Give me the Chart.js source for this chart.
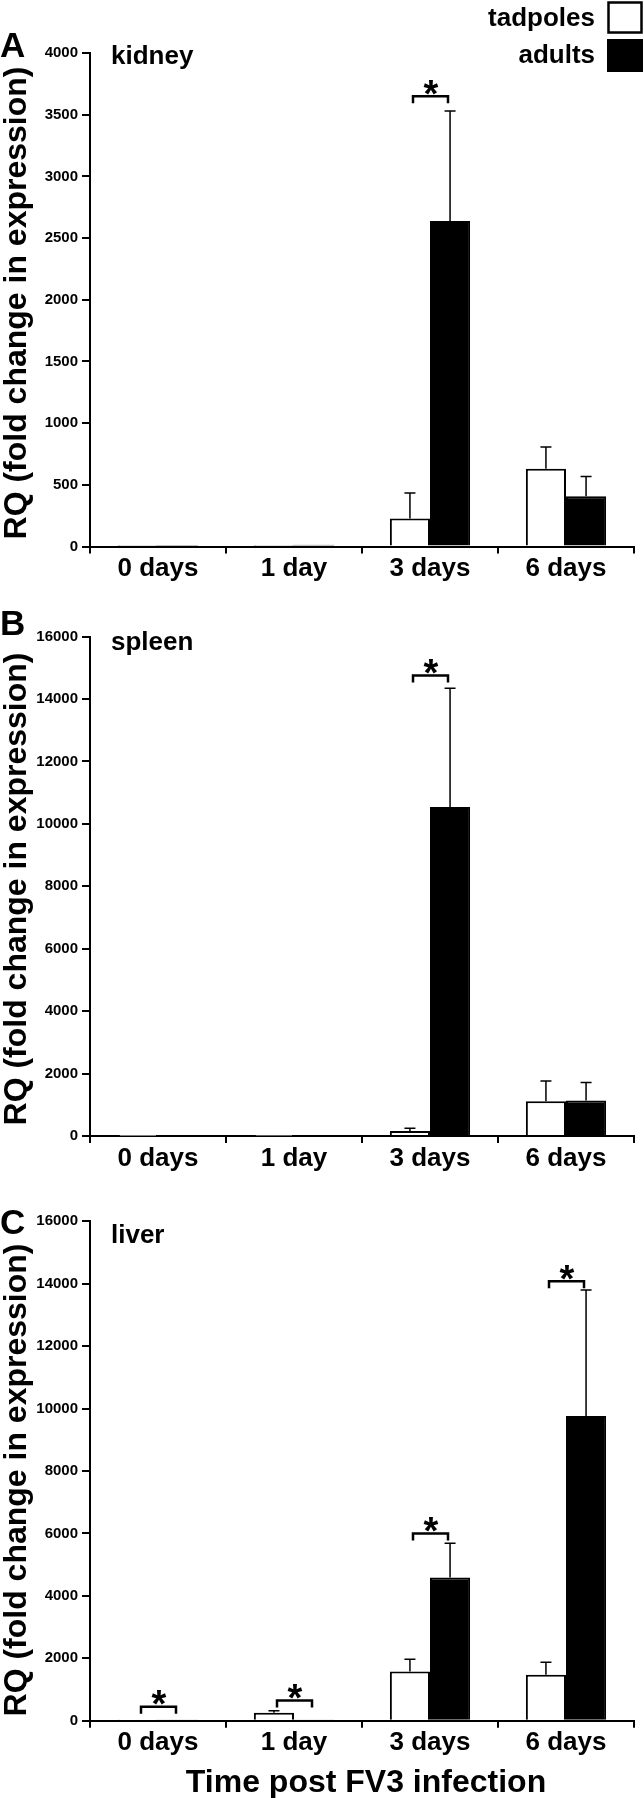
<!DOCTYPE html>
<html>
<head>
<meta charset="utf-8">
<script src="https://cdn.jsdelivr.net/npm/chart.js"></script>
<style>
  body { margin: 0; background: #fff; width: 644px; height: 1798px; position: relative; overflow: hidden; }
  canvas { position: absolute; left: 0; }
</style>
</head>
<body>
<canvas id="kidney" width="644" height="600" style="top:0px"></canvas>
<canvas id="spleen" width="644" height="590" style="top:600px"></canvas>
<canvas id="liver" width="644" height="608" style="top:1190px"></canvas>
<script>
const days = ['0 days', '1 day', '3 days', '6 days'];

// kidney (RQ, bar value and top of error bar)
const kidneyTadpoles = [4, 4, 226, 630];
const kidneyTadpolesTop = [4, 4, 434, 806];
const kidneyAdults = [2, 14, 2639, 408];
const kidneyAdultsTop = [2, 14, 3529, 568];
const kidneySig = [null, null, 3650, null];

// spleen
const spleenTadpoles = [3, 5, 160, 1116];
const spleenTadpolesTop = [3, 5, 245, 1764];
const spleenAdults = [2, 10, 10543, 1140];
const spleenAdultsTop = [2, 10, 14343, 1716];
const spleenSig = [null, null, 14750, null];

// liver
const liverTadpoles = [40, 256, 1578, 1475];
const liverTadpolesTop = [40, 322, 1965, 1875];
const liverAdults = [2, 4, 4584, 9766];
const liverAdultsTop = [2, 4, 5687, 13797];
const liverSig = [450, 644, 5994, 14078];

const FONT = '"Liberation Sans", Arial, Helvetica, sans-serif';

function extras(p) {
    return {
        id: 'extras',
        afterDatasetsDraw(chart) {
            const ctx = chart.ctx;
            const y = chart.scales.y;
            const x = chart.scales.x;
            ctx.save();
            ctx.strokeStyle = '#000';
            ctx.fillStyle = '#000';

            // error bars (upper only)
            [p.tadTop, p.adTop].forEach((tops, di) => {
                const vals = chart.data.datasets[di].data;
                chart.getDatasetMeta(di).data.forEach((bar, i) => {
                    if (tops[i] <= vals[i]) return;
                    const yt = y.getPixelForValue(tops[i]);
                    ctx.lineWidth = 1.5;
                    ctx.beginPath();
                    ctx.moveTo(bar.x, bar.y);
                    ctx.lineTo(bar.x, yt);
                    ctx.moveTo(bar.x - 5.5, yt);
                    ctx.lineTo(bar.x + 5.5, yt);
                    ctx.stroke();
                });
            });

            // significance brackets
            p.sig.forEach((v, i) => {
                if (v == null) return;
                const c = x.getPixelForValue(i);
                const by = y.getPixelForValue(v);
                ctx.lineWidth = 2.5;
                ctx.beginPath();
                ctx.moveTo(c - 17, by + 7);
                ctx.lineTo(c - 17, by);
                ctx.lineTo(c + 18, by);
                ctx.lineTo(c + 18, by + 7);
                ctx.stroke();
                ctx.font = 'bold 38px ' + FONT;
                ctx.textAlign = 'center';
                ctx.textBaseline = 'alphabetic';
                const m = ctx.measureText('*');
                const base = by - 9 - (m.actualBoundingBoxDescent - m.actualBoundingBoxAscent) / 2;
                ctx.fillText('*', c + 1, base);
            });
            ctx.restore();
        },
        afterDraw(chart) {
            const ctx = chart.ctx;
            ctx.save();
            ctx.fillStyle = '#000';
            ctx.strokeStyle = '#000';
            ctx.textBaseline = 'alphabetic';

            // panel letter
            ctx.font = 'bold 35px ' + FONT;
            ctx.textAlign = 'left';
            ctx.fillText(p.letter, 0, p.letterY);

            // organ
            ctx.font = 'bold 26px ' + FONT;
            ctx.fillText(p.organ, 111, p.organY);

            // y title
            ctx.save();
            ctx.translate(26, p.titleY);
            ctx.rotate(-Math.PI / 2);
            ctx.font = 'bold 32px ' + FONT;
            ctx.textAlign = 'center';
            ctx.fillText('RQ (fold change in expression)', 0, 0);
            ctx.restore();

            if (p.legend) {
                ctx.font = 'bold 26px ' + FONT;
                ctx.textAlign = 'right';
                ctx.fillText('tadpoles', 595, 26);
                ctx.fillText('adults', 595, 63);
                ctx.lineWidth = 2.5;
                ctx.strokeRect(608.5, 2.5, 33, 30);
                ctx.fillRect(607, 39, 36, 33);
            }
            if (p.xTitle) {
                ctx.font = 'bold 32px ' + FONT;
                ctx.textAlign = 'center';
                ctx.fillText(p.xTitle, 366, p.xTitleY);
            }
            ctx.restore();
        }
    };
}

function makePanel(id, p) {
    const axisFont = { family: FONT, weight: 'bold' };
    new Chart(document.getElementById(id), {
        type: 'bar',
        data: {
            labels: days,
            datasets: [
                { label: 'tadpoles', data: p.tad, backgroundColor: '#fff', borderColor: '#000', borderWidth: 2 },
                { label: 'adults', data: p.ad, backgroundColor: '#000', borderColor: '#000', borderWidth: 2 }
            ]
        },
        options: {
            responsive: false,
            animation: false,
            devicePixelRatio: 1,
            layout: { padding: { top: p.padTop, right: 10, left: 0, bottom: 0 } },
            datasets: { bar: { categoryPercentage: 0.59, barPercentage: 1 } },
            plugins: { legend: { display: false }, tooltip: { enabled: false } },
            scales: {
                x: {
                    offset: true,
                    grid: { offset: true, drawOnChartArea: false, drawTicks: true, tickLength: 7,
                            tickColor: '#000', tickWidth: 2, color: '#000', lineWidth: 2 },
                    border: { color: '#000', width: 2 },
                    ticks: { color: '#000', font: { ...axisFont, size: 26 }, padding: 0, maxRotation: 0 },
                    afterFit(s) { s.height = p.xHeight; }
                },
                y: {
                    min: 0,
                    max: p.max,
                    ticks: { stepSize: p.step, color: '#000', font: { ...axisFont, size: 15 }, padding: 4,
                             callback: v => String(v) },
                    grid: { drawOnChartArea: false, drawTicks: true, tickLength: 8,
                            tickColor: '#000', tickWidth: 2, color: '#000', lineWidth: 2 },
                    border: { color: '#000', width: 2 },
                    afterFit(s) { s.width = 90; }
                }
            }
        },
        plugins: [extras(p)]
    });
}

makePanel('kidney', {
    tad: kidneyTadpoles, tadTop: kidneyTadpolesTop, ad: kidneyAdults, adTop: kidneyAdultsTop, sig: kidneySig,
    max: 4000, step: 500, padTop: 53, xHeight: 53.5,
    letter: 'A', letterY: 57, organ: 'kidney', organY: 64, titleY: 303, legend: true
});

makePanel('spleen', {
    tad: spleenTadpoles, tadTop: spleenTadpolesTop, ad: spleenAdults, adTop: spleenAdultsTop, sig: spleenSig,
    max: 16000, step: 2000, padTop: 36.6, xHeight: 54,
    letter: 'B', letterY: 35, organ: 'spleen', organY: 50, titleY: 289
});

makePanel('liver', {
    tad: liverTadpoles, tadTop: liverTadpolesTop, ad: liverAdults, adTop: liverAdultsTop, sig: liverSig,
    max: 16000, step: 2000, padTop: 31.3, xHeight: 77.3,
    letter: 'C', letterY: 44, organ: 'liver', organY: 53, titleY: 290,
    xTitle: 'Time post FV3 infection', xTitleY: 602
});
</script>
</body>
</html>
